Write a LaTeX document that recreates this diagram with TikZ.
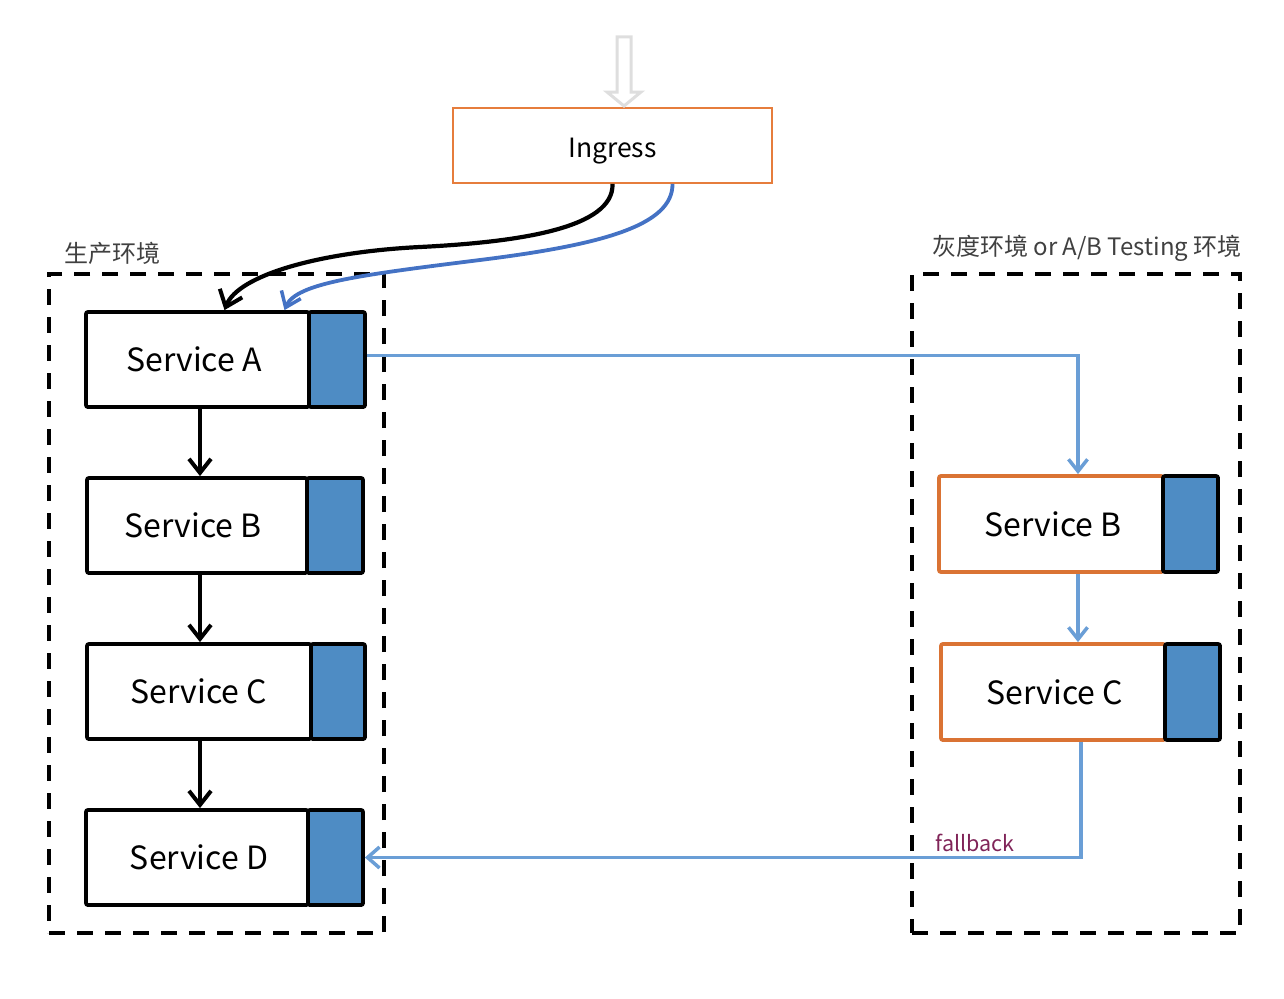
\documentclass[tikz,border=0pt]{standalone}
\usepackage{fontspec}
\setmainfont{Noto Sans CJK SC}
\usetikzlibrary{arrows.meta}
\definecolor{ingorange}{RGB}{230,125,60}
\definecolor{svcorange}{RGB}{218,115,52}
\definecolor{svcblue}{RGB}{78,140,196}
\definecolor{linkblue}{RGB}{106,158,214}
\definecolor{curveblue}{RGB}{68,114,196}
\definecolor{fbcolor}{RGB}{128,36,88}
\definecolor{labgray}{RGB}{64,64,64}
\tikzset{
  svc/.style={draw=black, line width=3.8pt, fill=white, rounded corners=2pt, inner sep=0pt,
    font=\fontsize{32}{36}\selectfont},
  svcalt/.style={svc, draw=svcorange},
  svcq/.style={draw=black, line width=3.8pt, fill=svcblue, rounded corners=2pt, inner sep=0pt},
  envbox/.style={draw=black, line width=3.5pt, dash pattern=on 16pt off 12pt, inner sep=0pt},
  envlabel/.style={text=labgray, inner sep=0pt, font=\fontsize{24}{28}\selectfont},
  blackarrow/.style={draw=black, line width=3.8pt, -{Straight Barb[length=14pt,width=22pt,line width=4pt]}},
  bluearrow/.style={draw=linkblue, line width=3.5pt, -{Straight Barb[length=12pt,width=19pt,line width=3.5pt]}},
  curveblack/.style={draw=black, line width=4.2pt, -{Straight Barb[length=15pt,width=24pt,line width=4pt]}},
  curveblu/.style={draw=curveblue, line width=3.8pt, -{Straight Barb[length=14pt,width=21pt,line width=3.5pt]}},
}
\begin{document}
\begin{tikzpicture}[x=1pt,y=-1pt]
\useasboundingbox (0,0) rectangle (1284,998);
% environments
\node[envbox, minimum width=335, minimum height=659] (prod) at (216.5,603.5) {};
\node[envbox, minimum width=328, minimum height=659] (gray) at (1076,603.5) {};
\node[envlabel] (prodlab) at (112,253) {生产环境};
\node[envlabel] (graylab) at (1087,248) {灰度环境 or A/B Testing 环境};
% ingress
\node[draw=ingorange, line width=1.8pt, fill=white, minimum width=319, minimum height=75, inner sep=0pt,
  text height=24pt, text depth=0pt,
  font=\fontsize{26.5}{30}\selectfont] (ing) at (612.5,145.5) {Ingress};
\draw[draw=black!13, line width=3pt, line join=miter, fill=white]
  (617,37) -- (631,37) -- (631,92) -- (641,92) -- (624,106) -- (607,92) -- (617,92) -- cycle;
% production services
\node[svc, minimum width=223, minimum height=95] (sa) at (197.5,359.5) {\hspace*{-7pt}Service A};
\node[svcq, minimum width=56, minimum height=95] (saq) at (337,359.5) {};
\node[svc, minimum width=220, minimum height=95] (sb) at (197,525.5) {\hspace*{-8pt}Service B};
\node[svcq, minimum width=56, minimum height=95] (sbq) at (335,525.5) {};
\node[svc, minimum width=224, minimum height=95] (sc) at (199,691.5) {Service C};
\node[svcq, minimum width=54, minimum height=95] (scq) at (338,691.5) {};
\node[svc, minimum width=222, minimum height=95] (sd) at (197,857.5) {\hspace*{4pt}Service D};
\node[svcq, minimum width=55, minimum height=95] (sdq) at (335.5,857.5) {};
% gray services
\node[svcalt, minimum width=224, minimum height=96] (rb) at (1051,524) {\hspace*{4pt}Service B};
\node[svcq, minimum width=55, minimum height=96] (rbq) at (1190.5,524) {};
\node[svcalt, minimum width=224, minimum height=96] (rc) at (1053,692) {\hspace*{4pt}Service C};
\node[svcq, minimum width=55, minimum height=96] (rcq) at (1192.5,692) {};
% curves from ingress
\draw[curveblack] (ing.south) .. controls (614,228) and (520,242) .. (420,247)
  .. controls (320,252) and (238,275) .. ([xshift=27pt]sa.north);
\draw[curveblu] ([xshift=60pt]ing.south) .. controls (673,226) and (600,245) .. (480,260)
  .. controls (360,275) and (296,283) .. ([xshift=87pt]sa.north);
% production chain
\draw[blackarrow] ([xshift=2.5pt]sa.south) -- ([xshift=3pt]sb.north);
\draw[blackarrow] ([xshift=3pt]sb.south) -- ([xshift=1pt]sc.north);
\draw[blackarrow] ([xshift=1pt]sc.south) -- ([xshift=3pt]sd.north);
% gray chain
\draw[bluearrow] ([yshift=4pt]saq.east) -| ([xshift=27pt]rb.north);
\draw[bluearrow] ([xshift=27pt]rb.south) -- ([xshift=27pt]rb.south |- rc.north);
\draw[draw=linkblue, line width=3.5pt, -{Straight Barb[length=12pt,width=21pt,line width=3.5pt]}]
  ([xshift=28pt]rc.south) |- (sdq.east);
\node[text=fbcolor, inner sep=0pt, font=\fontsize{21.5}{24}\selectfont] (fb) at (975,843) {fallback};
\end{tikzpicture}
\end{document}
